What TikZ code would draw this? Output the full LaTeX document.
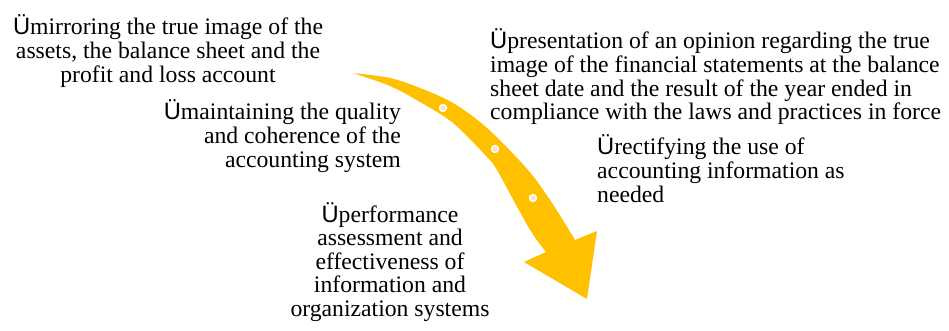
\documentclass[tikz,border=0pt]{standalone}
\usepackage{fontspec}
\setmainfont{Liberation Serif}
\newfontfamily\usans{Liberation Sans}
\definecolor{arrowgold}{HTML}{FFC000}
\definecolor{dotcore}{HTML}{FCE1C4}
\newcommand{\chk}{{\usans Ü}}
\begin{document}
\begin{tikzpicture}[x=1pt,y=-1pt,
  txt/.style={inner sep=0pt, font=\fontsize{23.7}{23.6}\selectfont, text=black},
  dotmark/.style={circle, fill=dotcore, draw=white, line width=1.3pt, minimum size=7pt, inner sep=0pt}]
\useasboundingbox (0,0) rectangle (949,331);
% arrow
\fill[arrowgold] plot[smooth, tension=0.55] coordinates {(353,73) (390,78) (420,88) (453,103) (487,128) (528,170) (552,203) (575,240)}
  -- (597,231) -- (587,299) -- (524,262) -- (546,252)
  -- plot[smooth, tension=0.55] coordinates {(546,252) (532,233) (515,203) (497,170) (487,157) (453,123) (420,102) (390,86) (353,73)} -- cycle;
\node[dotmark] (d1) at (443,108) {};
\node[dotmark] (d2) at (495,149) {};
\node[dotmark] (d3) at (533,198) {};
% texts (base anchor = baseline of last line)
\node[txt, anchor=base, align=center] (t1) at (168,82.2) {\chk mirroring the true image of the\\assets, the balance sheet and the\\profit and loss account};
\node[txt, anchor=base east, align=right] (t2) at (401,167.2) {\chk maintaining the quality\\and coherence of the\\accounting system};
\node[txt, anchor=base, align=center] (t3) at (390,316.4) {\chk performance\\assessment and\\effectiveness of\\information and\\organization systems};
\node[txt, anchor=base west, align=left] (t4) at (490,119.8) {\chk presentation of an opinion regarding the true\\image of the financial statements at the balance\\sheet date and the result of the year ended in\\compliance with the laws and practices in force};
\node[txt, anchor=base west, align=left] (t5) at (597,202.2) {\chk rectifying the use of\\accounting information as\\needed};
\end{tikzpicture}
\end{document}
